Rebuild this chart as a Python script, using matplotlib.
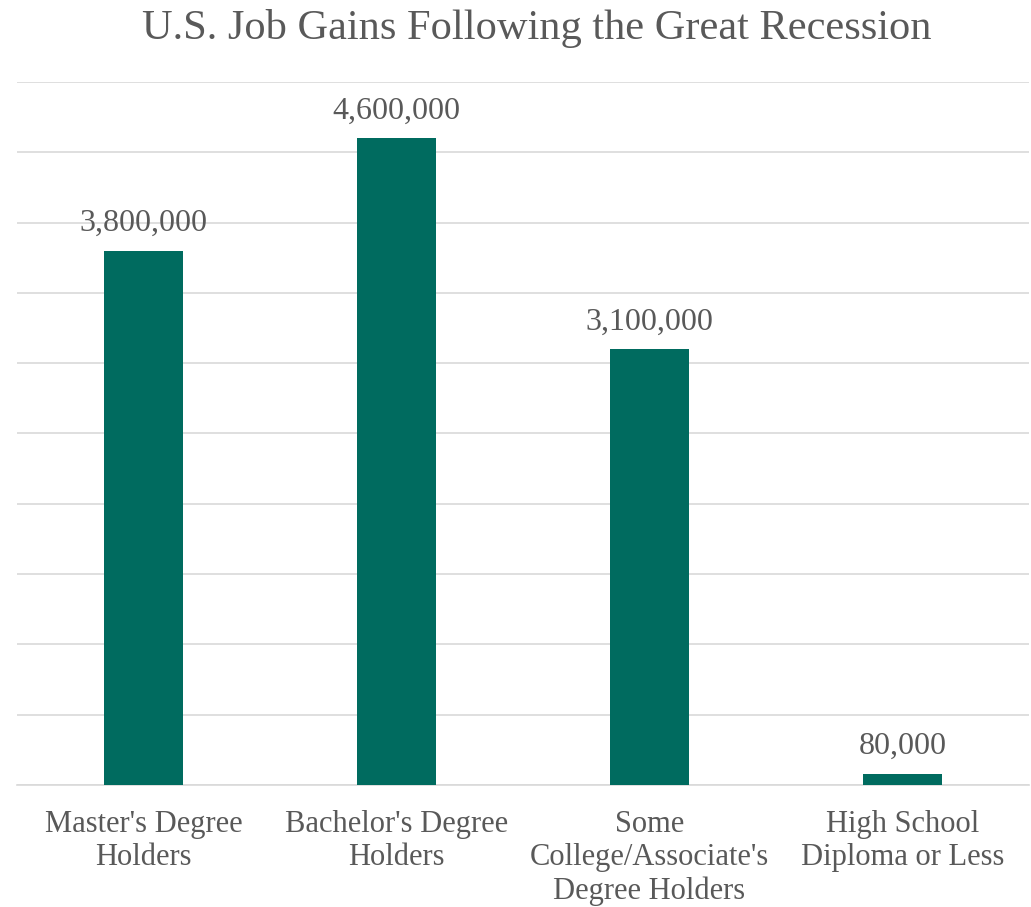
"""U.S. job gains after the Great Recession, by education level."""

import matplotlib.pyplot as plt
import numpy as np

categories = [
    "Master's Degree\nHolders",
    "Bachelor's Degree\nHolders",
    "Some\nCollege/Associate's\nDegree Holders",
    "High School\nDiploma or Less",
]
job_gains = [3800000, 4600000, 3100000, 80000]
y_ticks = np.arange(0, 5000001, 500000)

BAR_COLOR = "#006B5F"
TEXT_COLOR = "#595959"
GRID_COLOR = "#D9D9D9"

plt.rcParams["font.family"] = ["Liberation Serif", "DejaVu Serif"]

fig = plt.figure(figsize=(10.31, 9.07), dpi=100)
ax = fig.add_axes([17 / 1031, 1 - 785 / 907, 1012 / 1031, 703 / 907])

x = np.arange(len(categories))
bars = ax.bar(x, job_gains, width=0.316, color=BAR_COLOR, zorder=3)

for rect, val in zip(bars, job_gains):
    ax.annotate(f"{val:,}", (rect.get_x() + rect.get_width() / 2, val),
                xytext=(0, 9), textcoords="offset points",
                ha="center", va="bottom", fontsize=23, color=TEXT_COLOR)

ax.set_xlim(-0.5, len(categories) - 0.5)
ax.set_ylim(0, 5000000)
ax.set_yticks(y_ticks)
ax.set_yticklabels([])
ax.tick_params(axis="y", length=0)
ax.grid(axis="y", color=GRID_COLOR, linewidth=1.2, zorder=0)

ax.set_xticks(x)
ax.set_xticklabels(categories, fontsize=22, color=TEXT_COLOR, linespacing=1.2)
ax.tick_params(axis="x", length=0, pad=18)

for side in ("top", "right", "left"):
    ax.spines[side].set_visible(False)
ax.spines["bottom"].set_color(GRID_COLOR)
ax.spines["bottom"].set_linewidth(1.2)

fig.text(537 / 1031, 1 - 28 / 907, "U.S. Job Gains Following the Great Recession",
         ha="center", va="center", fontsize=30.5, color=TEXT_COLOR)

fig.savefig("out.png", dpi=100)
